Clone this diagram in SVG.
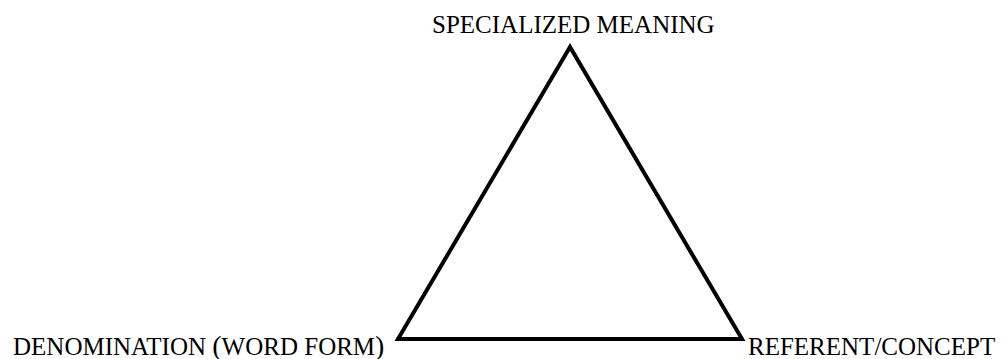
<svg xmlns="http://www.w3.org/2000/svg" width="1002" height="359" viewBox="0 0 1002 359">
  <style>
    .lbl { font-family: "Liberation Serif", "Times New Roman", serif; font-size: 25px; fill: #000; }
    .paren { font-size: 28px; }
    .edge { fill: none; stroke: #000; stroke-width: 4; stroke-linejoin: miter; stroke-miterlimit: 10; }
  </style>
  <rect width="1002" height="359" fill="#fff"/>
  <g id="connectors">
    <polygon class="edge" points="570,47 398,339 742,339"/>
  </g>
  <g id="node-meaning">
    <text class="lbl" x="432" y="33">SPECIALIZED MEANING</text>
  </g>
  <g id="node-denomination">
    <text class="lbl" x="13" y="355">DENOMINATION <tspan class="paren">(</tspan>WORD FORM<tspan class="paren">)</tspan></text>
  </g>
  <g id="node-referent">
    <text class="lbl" x="748" y="355">REFERENT/CONCEPT</text>
  </g>
</svg>
